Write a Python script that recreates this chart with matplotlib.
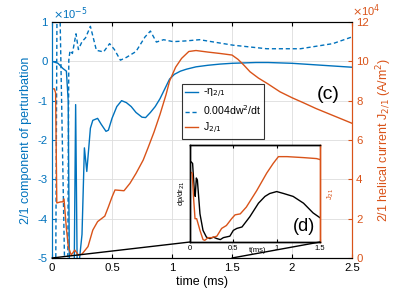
import matplotlib
matplotlib.use("Agg")
import matplotlib.pyplot as plt
from matplotlib.patches import ConnectionPatch

plt.rcParams['font.family'] = ['Liberation Sans', 'DejaVu Sans']
plt.rcParams['axes.unicode_minus'] = False

BLUE = '#0072BD'
ORANGE = '#D95319'

# main panel (c) data
t_eta = [0, 0.05, 0.09, 0.12, 0.135, 0.145, 0.17, 0.185, 0.197, 0.21, 0.23, 0.25, 0.27, 0.29, 0.32,
         0.34, 0.38, 0.41, 0.45, 0.47, 0.5, 0.54, 0.58, 0.62, 0.66, 0.7, 0.75, 0.78, 0.82, 0.86, 0.9,
         0.94, 0.98, 1.02, 1.07, 1.12, 1.2, 1.3, 1.4, 1.5, 1.6, 1.7, 1.8, 1.9, 2.0, 2.1, 2.2, 2.3, 2.4, 2.5]
eta = [0, -0.05, -0.18, -0.25, -1.0, -5.3, -5.3, -5.3, -1.1, -5.3, -5.0, -4.4, -2.2, -2.8, -1.7,
       -1.5, -1.45, -1.6, -1.78, -1.75, -1.45, -1.15, -1.0, -1.05, -1.15, -1.3, -1.42, -1.43, -1.3, -1.15, -0.95,
       -0.7, -0.45, -0.33, -0.25, -0.2, -0.14, -0.1, -0.07, -0.05, -0.04, -0.03, -0.03, -0.04, -0.05, -0.07, -0.09, -0.11, -0.13, -0.15]

t_dw = [0, 0.03, 0.042, 0.065, 0.11, 0.13, 0.14, 0.15, 0.17, 0.2, 0.22, 0.25, 0.28, 0.32, 0.37, 0.43,
        0.48, 0.52, 0.57, 0.62, 0.7, 0.775, 0.82, 0.87, 0.93, 1.01, 1.12, 1.23, 1.51, 1.79, 2.07, 2.34, 2.5]
dw = [-6, -6, 1.5, 1.5, -6, -6, 0.03, 0.27, 0.2, 0.7, 0.3, 0.5, 0.6, 0.89, 0.28, 0.24,
      0.45, 0.3, 0.03, 0.1, 0.25, 0.62, 0.77, 0.49, 0.55, 0.5, 0.52, 0.55, 0.41, 0.32, 0.32, 0.45, 0.62]

t_j = [0, 0.02, 0.03, 0.04, 0.07, 0.09, 0.1, 0.12, 0.136, 0.16, 0.19, 0.22, 0.25, 0.3, 0.34, 0.38,
       0.44, 0.47, 0.5, 0.525, 0.6, 0.65, 0.7, 0.76, 0.8, 0.85, 0.9, 0.95, 0.98, 1.03, 1.08, 1.14, 1.2,
       1.3, 1.4, 1.5, 1.55, 1.6, 1.65, 1.72, 1.8, 1.9, 2.0, 2.1, 2.2, 2.3, 2.4, 2.5]
j21 = [8.6, 8.6, 8.4, 2.8, 2.85, 2.86, 3.0, 1.5, 0.58, 0.15, 0.4, 0.15, 0.2, 0.58, 1.42, 1.85,
       2.13, 2.6, 3.1, 3.46, 3.42, 3.8, 4.3, 4.98, 5.6, 6.4, 7.3, 8.3, 9.0, 9.7, 10.15, 10.5, 10.55,
       10.47, 10.4, 10.32, 10.1, 9.8, 9.47, 9.15, 8.85, 8.45, 8.15, 7.88, 7.6, 7.35, 7.1, 6.85]

x_ticks = [0, 0.5, 1, 1.5, 2, 2.5]
x_labels = ['0', '0.5', '1', '1.5', '2', '2.5']
yl_ticks = [-5, -4, -3, -2, -1, 0, 1]
yl_labels = ['-5', '-4', '-3', '-2', '-1', '0', '1']
yr_ticks = [0, 2, 4, 6, 8, 10, 12]
yr_labels = ['0', '2', '4', '6', '8', '10', '12']

# inset panel (d) data (normalised)
t_in_p = [0.0, 0.008, 0.03, 0.05, 0.06, 0.073, 0.085, 0.115, 0.15, 0.19, 0.23, 0.27, 0.31, 0.35, 0.385,
          0.46, 0.5, 0.54, 0.6, 0.69, 0.79, 0.865, 0.92, 1.0, 1.08, 1.19, 1.31, 1.42, 1.5]
dpdr = [0.8, 0.83, 0.81, 0.53, 0.47, 0.66, 0.64, 0.29, 0.12, 0.05, 0.035, 0.05, 0.035, 0.025, 0.045,
        0.06, 0.12, 0.14, 0.155, 0.26, 0.4, 0.47, 0.5, 0.52, 0.5, 0.47, 0.4, 0.3, 0.25]
t_in_j = [0.0, 0.008, 0.025, 0.04, 0.058, 0.077, 0.115, 0.15, 0.17, 0.21, 0.25, 0.31, 0.365, 0.42,
          0.48, 0.52, 0.58, 0.65, 0.77, 0.885, 0.96, 1.02, 1.12, 1.31, 1.46, 1.5]
jin = [0.7, 0.72, 0.71, 0.47, 0.24, 0.24, 0.12, 0.025, 0.017, 0.045, 0.045, 0.06, 0.14, 0.17,
       0.24, 0.28, 0.29, 0.36, 0.53, 0.71, 0.81, 0.88, 0.88, 0.87, 0.86, 0.85]
xin_ticks = [0, 0.5, 1, 1.5]
xin_labels = ['0', '0.5', '1', '1.5']

fig = plt.figure(figsize=(3.99, 2.91), dpi=100)
ax = fig.add_axes([52/399, 1-258/291, 300/399, 236/291])
ax2 = ax.twinx()

l1, = ax.plot(t_eta, eta, color=BLUE, lw=1.0)
l2, = ax.plot(t_dw, dw, color=BLUE, lw=1.0, ls=(0, (3, 2)))
l3, = ax2.plot(t_j, j21, color=ORANGE, lw=1.0)

ax.set_xlim(0, 2.5)
ax.set_ylim(-5, 1)
ax2.set_ylim(0, 12)
ax.set_xticks(x_ticks)
ax.set_xticklabels(x_labels)
ax.set_yticks(yl_ticks)
ax.set_yticklabels(yl_labels)
ax2.set_yticks(yr_ticks)
ax2.set_yticklabels(yr_labels)
ax.grid(True, color='#dddddd', lw=0.6)
ax.set_axisbelow(True)
ax.tick_params(axis='x', direction='in', length=3, labelsize=8.2, top=True, pad=3.5)
ax.tick_params(axis='y', direction='in', length=3, labelsize=8.2, colors=BLUE, pad=3)
ax2.tick_params(axis='y', direction='in', length=3, labelsize=8.2, colors=ORANGE, pad=3)
for a in (ax, ax2):
    a.spines['left'].set_color(BLUE)
    a.spines['right'].set_color(ORANGE)
    a.spines['top'].set_color('black')
    a.spines['bottom'].set_color('black')
    for s in a.spines.values():
        s.set_linewidth(0.8)

ax.set_xlabel('time (ms)', fontsize=9, labelpad=2)
ax.set_ylabel('2/1 component of perturbation', fontsize=9, color=BLUE, labelpad=4)
ax2.set_ylabel('2/1 helical current J$_{2/1}$ (A/m$^2$)', fontsize=9, color=ORANGE, labelpad=4)
fig.text(53/399, 1-14/291, r'$\times$10$^{-5}$', color=BLUE, fontsize=8, va='center', ha='left')
fig.text(352/399, 1-11/291, r'$\times$10$^{4}$', color=ORANGE, fontsize=8, va='center', ha='left')

leg = ax.legend([l1, l2, l3], ['-η$_{2/1}$', '0.004dw$^2$/dt', 'J$_{2/1}$'],
                loc='upper left', bbox_to_anchor=((182-52)/300, (258-84)/236),
                fontsize=7.6, frameon=True, fancybox=False, edgecolor='black',
                handlelength=1.2, borderpad=0.3, labelspacing=0.3, handletextpad=0.45,
                borderaxespad=0)
leg.get_frame().set_linewidth(0.8)
leg.set_zorder(5)

ax.text(328/399, 1-95/291, '(c)', transform=fig.transFigure, fontsize=14,
        ha='center', va='center')

# inset
axi = fig.add_axes([190/399, 1-242/291, 130/399, 97/291])
axi2 = axi.twinx()
axi.plot(t_in_p, dpdr, color='black', lw=1.0)
axi2.plot(t_in_j, jin, color=ORANGE, lw=1.0)
axi.set_xlim(0, 1.5)
axi.set_ylim(0, 1)
axi2.set_ylim(0, 1)
axi.set_xticks(xin_ticks)
axi.set_xticklabels(xin_labels)
axi.set_yticks([])
axi2.set_yticks([])
axi.grid(True, axis='x', color='#dddddd', lw=0.6)
axi.tick_params(axis='x', direction='in', length=2, labelsize=5.5, pad=2, top=True)
for a in (axi, axi2):
    a.spines['right'].set_color(ORANGE)
    for s in a.spines.values():
        s.set_linewidth(1.0)
axi.text(0.78, -0.085, 't(ms)', transform=axi.get_xaxis_transform(), fontsize=5.5,
         ha='center', va='center')
axi.set_ylabel('dp/dr$_{21}$', fontsize=5.5, labelpad=2)
axi2.set_ylabel('J$_{21}$', fontsize=5.5, color=ORANGE, rotation=90, labelpad=4)
axi.text(0.88, 0.16, '(d)', transform=axi.transAxes, fontsize=13, ha='center', va='center')

for xa, xb in ((0, 0), (1.5, 1)):
    cp = ConnectionPatch(xyA=(xa, -5), coordsA=ax.transData, xyB=(xb, 0), coordsB=axi.transAxes,
                         color='black', lw=1.0)
    fig.add_artist(cp)

fig.savefig('out.png', dpi=100)
